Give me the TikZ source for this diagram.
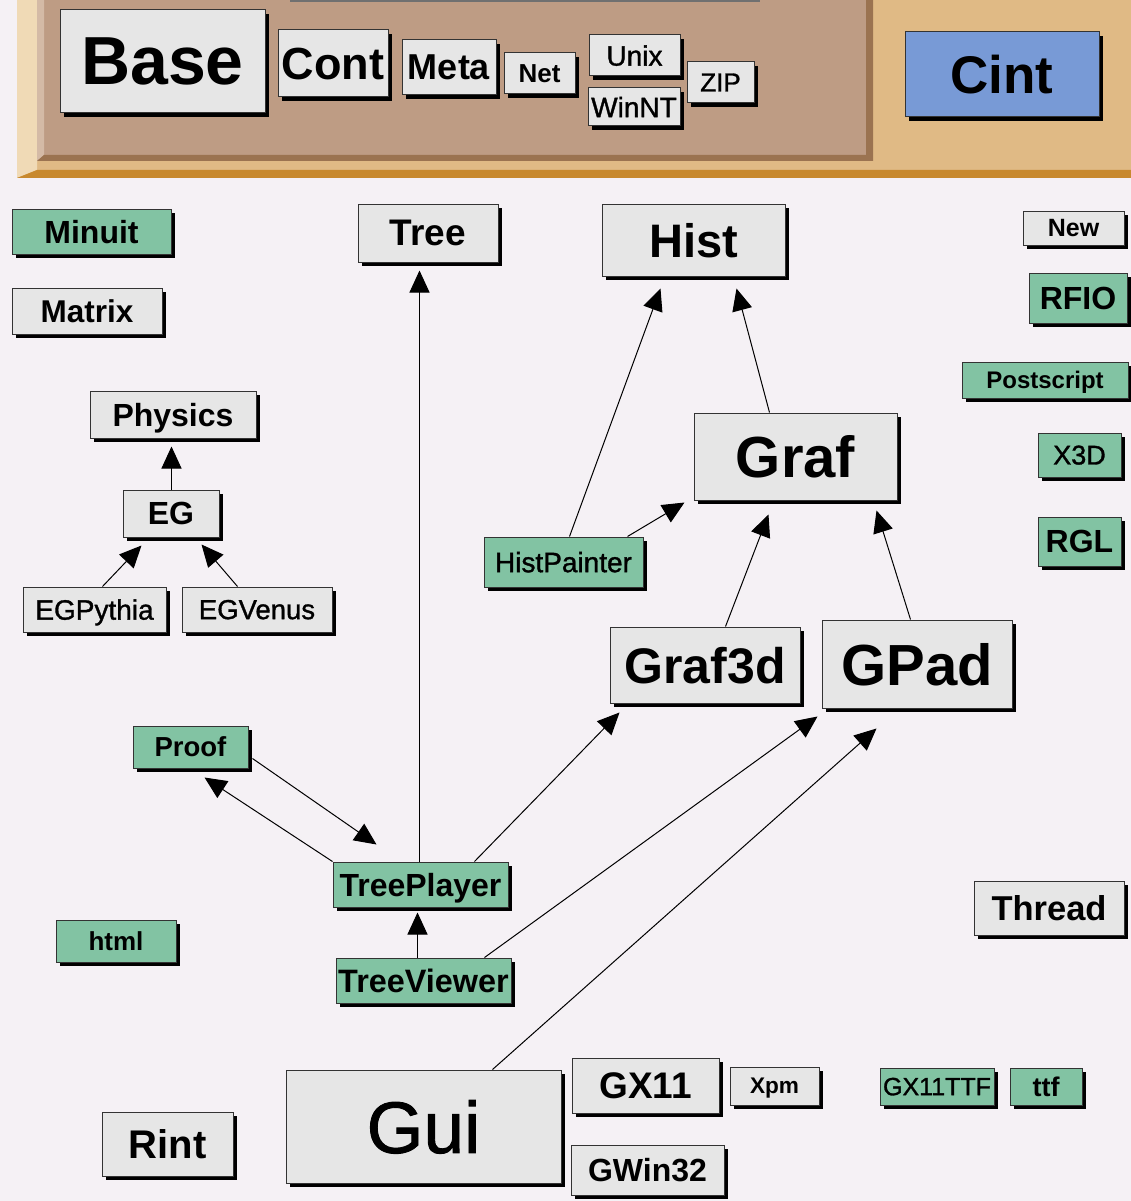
\documentclass[tikz,border=0pt]{standalone}
\usepackage{fontspec}
\setmainfont{Liberation Sans}
\newfontfamily\medfont[FakeBold=1.2]{Liberation Sans}
\usetikzlibrary{arrows.meta,shadows,calc}
\definecolor{bgc}{RGB}{245,241,245}
\definecolor{boxgray}{RGB}{230,230,230}
\definecolor{boxgreen}{RGB}{130,195,163}
\definecolor{cintblue}{RGB}{120,154,214}
\definecolor{gold}{RGB}{224,186,133}
\definecolor{goldlight}{RGB}{240,218,182}
\definecolor{goldorange}{RGB}{200,137,46}
\definecolor{brownp}{RGB}{190,156,132}
\definecolor{brownlight}{RGB}{212,186,166}
\definecolor{browndark}{RGB}{155,115,80}
\definecolor{topgray}{RGB}{112,112,112}
\newcommand\fsz[1]{\fontsize{#1pt}{#1pt}\selectfont}
\tikzset{
  box/.style={draw=black!80, line width=1pt, inner sep=0pt, text depth=0pt,
    drop shadow={shadow xshift=4pt, shadow yshift=-4pt, opacity=1, fill=black}},
  gbox/.style={box, fill=boxgray},
  nbox/.style={box, fill=boxgreen},
  bbox/.style={box, fill=cintblue},
  arr/.style={line width=1pt, -{Triangle[length=22pt,width=20pt]}}
}
\begin{document}
\begin{tikzpicture}[x=1pt,y=-1pt]
\fill[bgc] (0,0) rectangle (1131,1201);
\useasboundingbox (0,0) rectangle (1131,1201);
% top band
\fill[gold] (17,0) rectangle (1131,178);
\fill[goldlight] (17,0) -- (37,0) -- (37,170) -- (17,178) -- cycle;
\fill[goldorange] (17,178) -- (37,170) -- (1131,170) -- (1131,178) -- cycle;
\fill[brownp] (37,0) rectangle (873,161);
\fill[brownlight] (37,0) -- (44,0) -- (44,155) -- (37,161) -- cycle;
\fill[browndark] (37,161) -- (44,155) -- (866,155) -- (866,0) -- (873,0) -- (873,161) -- cycle;
\fill[topgray] (290,0) rectangle (760,2);

% nodes
\node[gbox, minimum width=205pt, minimum height=103pt, font=\bfseries\fsz{68}] (base) at (162.5,61.5) {Base};
\node[gbox, minimum width=110pt, minimum height=67pt, font=\bfseries\fsz{45}] (cont) at (333,63.5) {Cont};
\node[gbox, minimum width=94pt, minimum height=55pt, font=\bfseries\fsz{36}] (meta) at (449,67.5) {Meta};
\node[gbox, minimum width=71pt, minimum height=41pt, font=\bfseries\fsz{26}] (net) at (539.5,73.5) {Net};
\node[gbox, minimum width=91pt, minimum height=41pt, font=\medfont\fsz{28}] (unix) at (634.5,55.5) {Unix};
\node[gbox, minimum width=92pt, minimum height=38pt, font=\medfont\fsz{28}] (winnt) at (634,107) {WinNT};
\node[gbox, minimum width=67pt, minimum height=41pt, font=\medfont\fsz{26}] (zip) at (720.5,82.5) {ZIP};
\node[bbox, minimum width=194pt, minimum height=85pt, font=\bfseries\fsz{53}] (cint) at (1002,74.5) {Cint};

\node[nbox, minimum width=159pt, minimum height=45pt, font=\bfseries\fsz{32}] (minuit) at (91.5,231.5) {Minuit};
\node[gbox, minimum width=150pt, minimum height=46pt, font=\bfseries\fsz{31.5}] (matrix) at (87,311) {Matrix};
\node[gbox, minimum width=140pt, minimum height=58pt, font=\bfseries\fsz{37}] (tree) at (428,233) {Tree};
\node[gbox, minimum width=183pt, minimum height=72pt, font=\bfseries\fsz{47}] (hist) at (693.5,240) {Hist};
\node[gbox, minimum width=101pt, minimum height=34pt, font=\bfseries\fsz{25}] (new) at (1073.5,228) {New};
\node[nbox, minimum width=98pt, minimum height=50pt, font=\bfseries\fsz{32}] (rfio) at (1078,298) {RFIO};
\node[gbox, minimum width=166pt, minimum height=47pt, font=\bfseries\fsz{32}] (physics) at (173,414.5) {Physics};
\node[nbox, minimum width=166pt, minimum height=36pt, font=\bfseries\fsz{24}] (postscript) at (1045,380) {Postscript};
\node[gbox, minimum width=203pt, minimum height=87pt, font=\bfseries\fsz{58}] (graf) at (795.5,456.5) {Graf};
\node[nbox, minimum width=83pt, minimum height=44pt, font=\medfont\fsz{27}] (x3d) at (1079.5,455) {X3D};
\node[gbox, minimum width=96pt, minimum height=47pt, font=\bfseries\fsz{32}] (eg) at (171,513.5) {EG};
\node[nbox, minimum width=83pt, minimum height=49pt, font=\bfseries\fsz{32}] (rgl) at (1079.5,541.5) {RGL};
\node[nbox, minimum width=159pt, minimum height=50pt, font=\medfont\fsz{28}] (histpainter) at (563.5,562) {HistPainter};
\node[gbox, minimum width=143pt, minimum height=45pt, font=\medfont\fsz{28}] (egpythia) at (94.5,609.5) {EGPythia};
\node[gbox, minimum width=150pt, minimum height=45pt, font=\medfont\fsz{27.5}] (egvenus) at (257,609.5) {EGVenus};
\node[gbox, minimum width=190pt, minimum height=76pt, font=\bfseries\fsz{50}] (graf3d) at (705,665) {Graf3d};
\node[gbox, minimum width=190pt, minimum height=88pt, font=\bfseries\fsz{58}] (gpad) at (917,664) {GPad};
\node[nbox, minimum width=115pt, minimum height=42pt, font=\bfseries\fsz{27.5}] (proof) at (190.5,747) {Proof};
\node[nbox, minimum width=175pt, minimum height=45pt, font=\bfseries\fsz{32}] (treeplayer) at (420.5,884.5) {TreePlayer};
\node[gbox, minimum width=150pt, minimum height=54pt, font=\bfseries\fsz{34.5}] (thread) at (1049,908) {Thread};
\node[nbox, minimum width=120pt, minimum height=42pt, font=\bfseries\fsz{26}] (html) at (116,941) {html};
\node[nbox, minimum width=175pt, minimum height=45pt, font=\bfseries\fsz{32.4}] (treeviewer) at (423.5,980.5) {TreeViewer};
\node[gbox, minimum width=147pt, minimum height=55pt, font=\bfseries\fsz{37}] (gx11) at (645.5,1085.5) {GX11};
\node[gbox, minimum width=89pt, minimum height=38pt, font=\bfseries\fsz{22.6}] (xpm) at (774.5,1086) {Xpm};
\node[nbox, minimum width=114pt, minimum height=37pt, font=\medfont\fsz{25}] (gx11ttf) at (937,1086.5) {GX11TTF};
\node[nbox, minimum width=72pt, minimum height=37pt, font=\bfseries\fsz{27}] (ttf) at (1046,1086.5) {ttf};
\node[gbox, minimum width=275pt, minimum height=113pt, font=\medfont\fsz{73}] (gui) at (423.5,1126.5) {Gui};
\node[gbox, minimum width=153pt, minimum height=50pt, font=\bfseries\fsz{32}] (gwin32) at (647.5,1170) {GWin32};
\node[gbox, minimum width=131pt, minimum height=64pt, font=\bfseries\fsz{40}] (rint) at (167.5,1144) {Rint};

% connectors
\draw[arr] ($(treeplayer.north west)+(87,0)$) -- ($(tree.south west)+(62,8)$);
\draw[arr] ($(histpainter.north west)+(86,0)$) -- ($(hist.south west)+(59,12)$);
\draw[arr] ($(graf.north west)+(76,0)$) -- ($(hist.south west)+(135,12)$);
\draw[arr] ($(histpainter.north west)+(144,0)$) -- ($(graf.south west)+(-9,2)$);
\draw[arr] ($(graf3d.north west)+(116,0)$) -- ($(graf.south west)+(75,14)$);
\draw[arr] ($(gpad.north west)+(89,0)$) -- ($(graf.south west)+(183,10)$);
\draw[arr] ($(eg.north west)+(49,0)$) -- ($(physics.south west)+(82,8)$);
\draw[arr] ($(egpythia.north west)+(80,0)$) -- ($(eg.south west)+(19,8)$);
\draw[arr] ($(egvenus.north west)+(56,0)$) -- ($(eg.south west)+(79,7)$);
\draw[arr] ($(treeplayer.north west)+(142,0)$) -- ($(graf3d.south west)+(10,9)$);
\draw[arr] ($(treeviewer.north west)+(149,0)$) -- ($(gpad.south west)+(-4,8)$);
\draw[arr] ($(gui.north west)+(207,0)$) -- ($(gpad.south west)+(55,20)$);
\draw[arr] ($(proof.south east)+(4,-10)$) -- ($(treeplayer.north west)+(44,-17)$);
\draw[arr] (treeplayer.north west) -- ($(proof.south west)+(72,9)$);
\draw[arr] ($(treeviewer.north west)+(82,0)$) -- ($(treeplayer.south west)+(85,5)$);
\end{tikzpicture}
\end{document}
